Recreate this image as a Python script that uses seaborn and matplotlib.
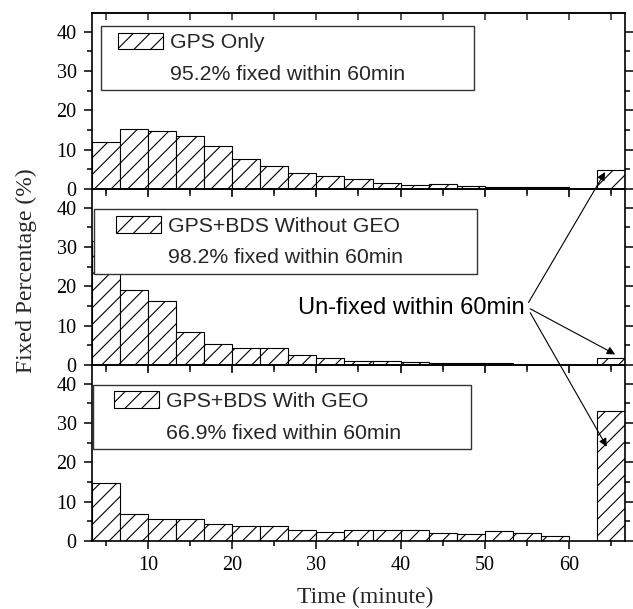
import matplotlib
matplotlib.use("Agg")
import matplotlib.pyplot as plt
import seaborn as sns
import pandas as pd
from matplotlib.patches import Patch, Rectangle
from matplotlib.legend_handler import HandlerPatch
from matplotlib.ticker import MultipleLocator

# ---- data ----
time_bins = [5.0, 8.333, 11.667, 15.0, 18.333, 21.667, 25.0, 28.333, 31.667,
             35.0, 38.333, 41.667, 45.0, 48.333, 51.667, 55.0, 58.333, 65.0]
gps_only = [11.9, 15.3, 14.7, 13.4, 10.9, 7.6, 5.9, 4.1, 3.2,
            2.5, 1.45, 0.9, 1.3, 0.7, 0.5, 0.6, 0.4, 4.8]
gps_bds_no_geo = [31.5, 19.1, 16.2, 8.5, 5.3, 4.3, 4.3, 2.6, 1.8,
                  1.0, 0.95, 0.7, 0.4, 0.4, 0.4, 0.1, 0.1, 1.8]
gps_bds_geo = [14.7, 6.9, 5.7, 5.5, 4.3, 3.7, 3.7, 2.9, 2.4,
               2.7, 2.7, 2.9, 2.1, 1.7, 2.5, 2.0, 1.2, 33.1]
series_names = ["GPS Only", "GPS+BDS Without GEO", "GPS+BDS With GEO"]
fixed_notes = ["95.2% fixed within 60min", "98.2% fixed within 60min",
               "66.9% fixed within 60min"]
annot_text = "Un-fixed within 60min"
x_label = "Time (minute)"
y_label = "Fixed Percentage (%)"

sns.set_style("ticks")
plt.rcParams["font.family"] = ["Liberation Serif", "DejaVu Serif"]
plt.rcParams["hatch.linewidth"] = 0.8
plt.rcParams["hatch.color"] = "black"
plt.rcParams["axes.linewidth"] = 1.2

fig = plt.figure(figsize=(6.33, 6.09), dpi=100)
fig.patch.set_facecolor("white")
gs = fig.add_gridspec(3, 1, left=0.1453, right=0.9874, top=0.9787,
                      bottom=0.1117, hspace=0)
axes = [fig.add_subplot(gs[i]) for i in range(3)]

all_vals = [gps_only, gps_bds_no_geo, gps_bds_geo]
leg_boxes = [(0.0163, 0.925, 0.700), (0.0043, 0.884, 0.7175), (0.0024, 0.887, 0.709)]
handle_offsets_px = [10.9, 15.2, 14.2]
patch_w_px = 45.0
sans = {"family": "Liberation Sans", "size": 15.3}
FS_PX = 15.3 * 100 / 72.0


def make_handler(off_px):
    off_pt = off_px * 72.0 / 100.0
    w_pt = patch_w_px * 72.0 / 100.0

    def pfunc(legend, orig_handle, xdescent, ydescent, width, height, fontsize):
        return Rectangle((-xdescent + off_pt, -ydescent), w_pt, height)
    return HandlerPatch(patch_func=pfunc)


for i, ax in enumerate(axes):
    df = pd.DataFrame({"time": time_bins, "pct": all_vals[i]})
    sns.barplot(data=df, x="time", y="pct", native_scale=True, width=1,
                color="white", saturation=1, edgecolor="black", linewidth=0.8,
                hatch="//", errorbar=None, ax=ax)
    ax.set_facecolor("none")
    ax.set_xlim(10 / 3, 200 / 3)
    ax.set_ylim(0, 44.8)
    ax.xaxis.set_major_locator(MultipleLocator(10))
    ax.xaxis.set_minor_locator(MultipleLocator(5))
    ax.yaxis.set_major_locator(MultipleLocator(10))
    ax.yaxis.set_minor_locator(MultipleLocator(5))
    ax.set_xlabel("")
    ax.set_ylabel("")
    ax.tick_params(which="both", direction="out", right=True, width=1.1,
                   labelsize=14.5, pad=5, colors="black")
    ax.tick_params(which="major", length=6)
    ax.tick_params(which="minor", length=3.5)
    if i < 2:
        ax.tick_params(labelbottom=False)
    for s in ax.spines.values():
        s.set_visible(True)
        s.set_linewidth(1.2)
        s.set_color("black")
    sec = ax.secondary_xaxis("top")
    sec.xaxis.set_major_locator(MultipleLocator(10))
    sec.xaxis.set_minor_locator(MultipleLocator(5))
    sec.tick_params(which="both", direction="in", labeltop=False, width=1.1,
                    length=5)
    sec.spines["top"].set_linewidth(1.2)

    x0, ytop, w = leg_boxes[i]
    off = handle_offsets_px[i]
    hl = (off + patch_w_px) / FS_PX
    h1 = Patch(facecolor="white", edgecolor="black", hatch="//", linewidth=0.8)
    h2 = Patch(facecolor="none", edgecolor="none")
    leg = ax.legend([h1, h2], [series_names[i], fixed_notes[i]],
                    loc="upper left", bbox_to_anchor=(x0, 0, w, ytop),
                    mode="expand", borderaxespad=0, prop=sans,
                    handlelength=hl, handleheight=0.85, handletextpad=0.35,
                    borderpad=0.3, labelspacing=0.56, frameon=True,
                    fancybox=False, framealpha=1, edgecolor="#333333",
                    handler_map={h1: make_handler(off)})
    leg.get_frame().set_linewidth(1.0)

ax_top, ax_mid, ax_bot = axes

ax_mid.text(41.33, 14.6, annot_text, ha="center", va="center",
            family="Liberation Sans", size=17, color="black")

targets = [(ax_top, 64.3, 4.3, 55.2, 15.9),
           (ax_mid, 65.5, 2.7, 55.4, 14.3),
           (ax_bot, 64.5, 24.0, 55.4, 13.3)]
for tax, tx, ty, sx, sy in targets:
    ax_bot.annotate("", xy=(tx, ty), xycoords=tax.transData,
                    xytext=(sx, sy), textcoords=ax_mid.transData,
                    arrowprops=dict(arrowstyle="-|>", color="black", lw=0.8,
                                    mutation_scale=12, shrinkA=0, shrinkB=0),
                    annotation_clip=False)

fig.text(365 / 633, (609 - 597) / 609, x_label, ha="center", va="center",
         family="Liberation Serif", size=17)
fig.text(26 / 633, (609 - 271) / 609, y_label, ha="center", va="center",
         rotation=90, family="Liberation Serif", size=17)

fig.savefig("out.png", dpi=100, facecolor="white")
